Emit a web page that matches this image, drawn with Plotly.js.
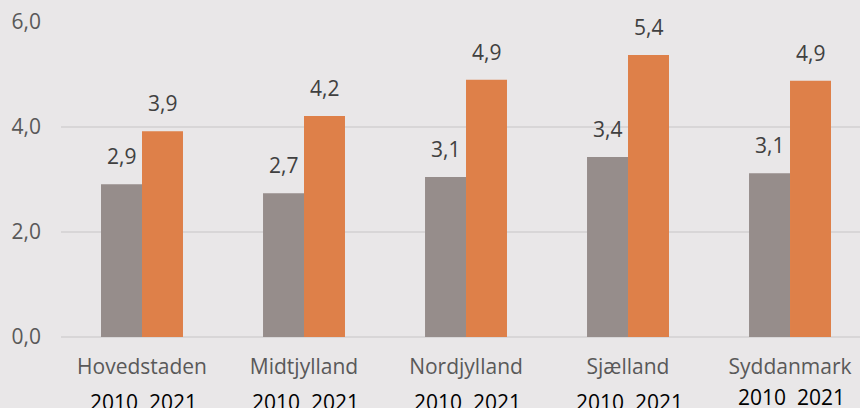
<!DOCTYPE html>
<html>
<head>
<meta charset="utf-8">
<script src="https://cdn.plot.ly/plotly-3.0.1.min.js"></script>
<style>html,body{margin:0;padding:0;background:#e9e7e8;}#chart{width:860px;height:408px;}</style>
</head>
<body>
<div id="chart"></div>
<script>
const regions = ["Hovedstaden", "Midtjylland", "Nordjylland", "Sjælland", "Syddanmark"];
const years = ["2010", "2021"];
const values2010 = [2.9, 2.7, 3.1, 3.4, 3.1];
const values2021 = [3.9, 4.2, 4.9, 5.4, 4.9];
const barTops2010 = [2.91, 2.74, 3.05, 3.43, 3.12];
const barTops2021 = [3.92, 4.21, 4.90, 5.37, 4.88];
const yTicks = [0, 2, 4, 6];

const idx = regions.map((_, i) => i);
const fmt = v => v.toFixed(1).replace('.', ',');

const traces = [
  {type: 'bar', x: idx, y: barTops2010, name: years[0], marker: {color: '#968d8b'}, hoverinfo: 'skip'},
  {type: 'bar', x: idx, y: barTops2021, name: years[1], marker: {color: '#de8049'}, hoverinfo: 'skip'}
];

const annotations = [];
idx.forEach(i => {
  annotations.push({x: i, y: barTops2010[i], xref: 'x', yref: 'y', text: fmt(values2010[i]), showarrow: false,
    xshift: -20.5, yanchor: 'bottom', yshift: 12, font: {family: 'Open Sans', size: 21, color: '#404040'}});
  annotations.push({x: i, y: barTops2021[i], xref: 'x', yref: 'y', text: fmt(values2021[i]), showarrow: false,
    xshift: 20.5, yanchor: 'bottom', yshift: 12, font: {family: 'Open Sans', size: 21, color: '#404040'}});
  annotations.push({x: i, y: 0, xref: 'x', yref: 'paper', text: years.join('\u00a0\u00a0'), showarrow: false,
    yanchor: 'top', yshift: i === 4 ? -44 : -49, xshift: 1, font: {family: 'Open Sans', size: 21, color: '#000000'}});
});

const layout = {
  width: 860, height: 408,
  margin: {l: 61, r: 0, t: 22, b: 71},
  paper_bgcolor: '#e9e7e8', plot_bgcolor: '#e9e7e8',
  separators: ',.',
  showlegend: false,
  barmode: 'group', bargap: 0.494, bargroupgap: 0,
  xaxis: {
    range: [-0.5, 4.432], tickmode: 'array', tickvals: idx, ticktext: regions,
    showgrid: false, zeroline: false, showline: false, ticks: '',
    tickfont: {family: 'Open Sans', size: 21, color: '#595959'}, ticklabelstandoff: 15
  },
  yaxis: {
    range: [0, 6], tickmode: 'array', tickvals: yTicks, tickformat: '.1f',
    showgrid: true, gridcolor: '#d8d6d7', gridwidth: 2, zeroline: true, zerolinecolor: '#d8d6d7', zerolinewidth: 2,
    showline: false, ticks: '',
    tickfont: {family: 'Open Sans', size: 21, color: '#595959'}, ticklabelstandoff: 19
  },
  annotations: annotations
};

Plotly.newPlot('chart', traces, layout, {displayModeBar: false, staticPlot: true});
</script>
</body>
</html>
